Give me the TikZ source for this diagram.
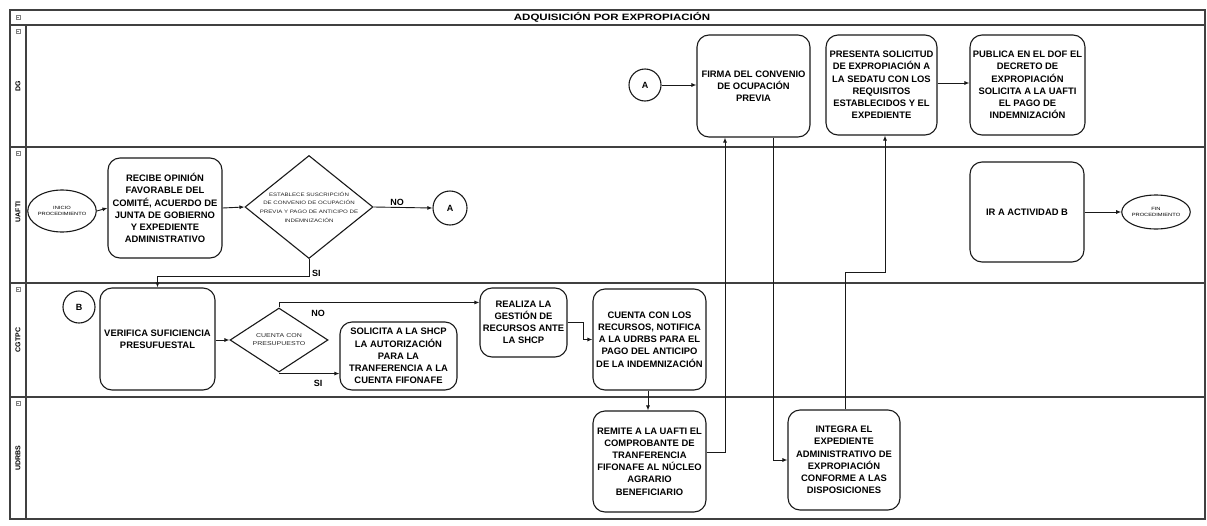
\documentclass[tikz,border=0pt]{standalone}
\usepackage{fontspec}
\setmainfont{Liberation Sans}
\newfontfamily\widesans[FakeStretch=1.25]{Liberation Sans}
\usetikzlibrary{shapes.geometric,arrows.meta,calc}

\begin{document}
\begin{tikzpicture}[x=1pt,y=-1pt,
  laneline/.style={draw=black!75, line width=1.3pt},
  task/.style={draw=black!90, line width=1.1pt, rounded corners=12pt, align=center,
    font=\fontsize{9.4}{12.2}\selectfont\bfseries, inner sep=1pt},
  decision/.style={draw=black!90, line width=1.1pt, diamond, inner sep=0pt},
  tinytext/.style={align=center, inner sep=0pt, text=black!85},
  event/.style={draw=black!90, line width=1.1pt, ellipse, inner sep=0pt, align=center,
    font=\widesans\fontsize{4.6}{5.6}\selectfont},
  connector/.style={draw=black!90, line width=1.1pt, circle, inner sep=0pt,
    font=\fontsize{9}{10}\selectfont\bfseries},
  flow/.style={draw=black!90, line width=0.9pt, -{Latex[length=5pt,width=4pt]}},
  flowlabel/.style={font=\fontsize{9}{10}\selectfont\bfseries, inner sep=1pt},
  lanename/.style={rotate=90, font=\fontsize{7}{8}\selectfont\bfseries, inner sep=0pt},
  icon/.style={draw=black!50, line width=0.4pt, minimum size=4pt, inner sep=0pt}
]
\useasboundingbox (0,0) rectangle (1207,525);
\fill[white] (0,0) rectangle (1207,525);

% pool frame, title row and lane separators
\draw[laneline] (10,10) rectangle (1205,519);
\draw[laneline] (10,25) -- (1205,25);
\draw[laneline] (26,25) -- (26,519);
\draw[laneline] (10,147) -- (1205,147);
\draw[laneline] (10,283) -- (1205,283);
\draw[laneline] (10,397) -- (1205,397);

\node[font=\widesans\fontsize{9.2}{10}\selectfont\bfseries] (title) at (612,17.5) {ADQUISICIÓN POR EXPROPIACIÓN};

% collapse icons in the headers
\foreach \iy [count=\k] in {17,31,153,289,403} {
  \node[icon] (ico\k) at (18,\iy) {};
  \draw[black!50, line width=0.4pt] ($(ico\k.west)+(1,0)$) -- ($(ico\k.east)+(-1,0)$);
}

% lane names
\node[lanename] (lDG) at (18,86) {DG};
\node[lanename] (lUAFTI) at (18,212) {UAFTI};
\node[lanename] (lCGTPC) at (18,340) {CGTPC};
\node[lanename] (lUDRBS) at (18,458) {UDRBS};

% ---- DG lane
\node[connector, minimum size=32pt] (A1) at (645,85) {A};
\node[task, minimum width=113pt, minimum height=102pt] (firma) at (753.5,86)
  {FIRMA DEL CONVENIO\\DE OCUPACIÓN\\PREVIA};
\node[task, minimum width=111pt, minimum height=100pt] (presenta) at (881.5,85)
  {PRESENTA SOLICITUD\\DE EXPROPIACIÓN A\\LA SEDATU CON LOS\\REQUISITOS\\ESTABLECIDOS Y EL\\EXPEDIENTE};
\node[task, minimum width=115pt, minimum height=100pt] (publica) at (1027.5,85)
  {PUBLICA EN EL DOF EL\\DECRETO DE\\EXPROPIACIÓN\\SOLICITA A LA UAFTI\\EL PAGO DE\\INDEMNIZACIÓN};

% ---- UAFTI lane
\node[event, minimum width=60pt, minimum height=42pt] (inicio) at (62,211) {INICIO\\PROCEDIMIENTO};
\node[task, minimum width=114pt, minimum height=100pt] (recibe) at (165,208)
  {RECIBE OPINIÓN\\FAVORABLE DEL\\COMITÉ, ACUERDO DE\\JUNTA DE GOBIERNO\\Y EXPEDIENTE\\ADMINISTRATIVO};
\node[decision, minimum width=128pt, minimum height=103pt] (d1) at (309,207) {};
\node[tinytext, font=\widesans\fontsize{4.9}{8.6}\selectfont] (d1text) at (d1.center)
  {ESTABLECE SUSCRIPCIÓN\\DE CONVENIO DE OCUPACIÓN\\PREVIA Y PAGO DE ANTICIPO DE\\INDEMNIZACIÓN};
\node[connector, minimum size=34pt] (A2) at (450,208) {A};
\node[task, minimum width=114pt, minimum height=100pt] (ir) at (1027,212) {IR A ACTIVIDAD B};
\node[event, minimum width=55pt, minimum height=34pt] (fin) at (1156,212) {FIN\\PROCEDIMIENTO};

% ---- CGTPC lane
\node[connector, minimum size=32pt] (B) at (79,307) {B};
\node[task, minimum width=115pt, minimum height=102pt] (verifica) at (157.5,339)
  {VERIFICA SUFICIENCIA\\PRESUFUESTAL};
\node[decision, minimum width=98pt, minimum height=64pt] (d2) at (279,340) {};
\node[tinytext, font=\widesans\fontsize{5.6}{8}\selectfont] (d2text) at (d2.center)
  {CUENTA CON\\PRESUPUESTO};
\node[task, minimum width=117pt, minimum height=68pt] (solicita) at (398.5,356)
  {SOLICITA A LA SHCP\\LA AUTORIZACIÓN\\PARA LA\\TRANFERENCIA A LA\\CUENTA FIFONAFE};
\node[task, minimum width=87pt, minimum height=69pt] (realiza) at (523.5,322.5)
  {REALIZA LA\\GESTIÓN DE\\RECURSOS ANTE\\LA SHCP};
\node[task, minimum width=113pt, minimum height=101pt] (cuenta) at (649.5,339.5)
  {CUENTA CON LOS\\RECURSOS, NOTIFICA\\A LA UDRBS PARA EL\\PAGO DEL ANTICIPO\\DE LA INDEMNIZACIÓN};

% ---- UDRBS lane
\node[task, minimum width=113pt, minimum height=101pt] (remite) at (649.5,461.5)
  {REMITE A LA UAFTI EL\\COMPROBANTE DE\\TRANFERENCIA\\FIFONAFE AL NÚCLEO\\AGRARIO\\BENEFICIARIO};
\node[task, minimum width=112pt, minimum height=100pt] (integra) at (844,460)
  {INTEGRA EL\\EXPEDIENTE\\ADMINISTRATIVO DE\\EXPROPIACIÓN\\CONFORME A LAS\\DISPOSICIONES};

% ---- sequence flows
\draw[flow] (inicio.east) -- (recibe.west);
\draw[flow] (recibe.east) -- (d1.west);
\draw[flow] (d1.east) -- node[flowlabel, above, pos=0.4] (noA) {NO} (A2.west);
\draw[flow] (d1.south) -- ++(0,17) coordinate (siA) -| (verifica.north);
\node[flowlabel, anchor=west] (siAlabel) at ($(siA)+(2,-3)$) {SI};
\draw[flow] (A1.east) -- (firma.west |- A1.east);
\draw[flow] (presenta.east |- 0,83) -- (publica.west |- 0,83);
\draw[flow] (ir.east |- fin.west) -- (fin.west);
\draw[flow] (verifica.east |- d2.west) -- (d2.west);
\draw[flow] (d2.north) |- ([yshift=-15pt]realiza.north west);
\node[flowlabel] (noB) at (318,313) {NO};
\draw[flow] (d2.south) |- ([yshift=17pt]solicita.south west);
\node[flowlabel] (siB) at (318,383) {SI};
\draw[flow] (realiza.east) -- ++(16,0) |- (cuenta.west);
\draw[flow] ([xshift=-1.5pt]cuenta.south) -- ([xshift=-1.5pt]remite.north);
\draw[flow] ([yshift=9pt]remite.east) -| ([xshift=-28.5pt]firma.south);
\draw[flow] ([xshift=19.5pt]firma.south) |- (integra.west);
\draw[flow] ([xshift=1pt]integra.north) -- ++(0,-137) -| ([xshift=3.5pt]presenta.south);
\end{tikzpicture}
\end{document}
